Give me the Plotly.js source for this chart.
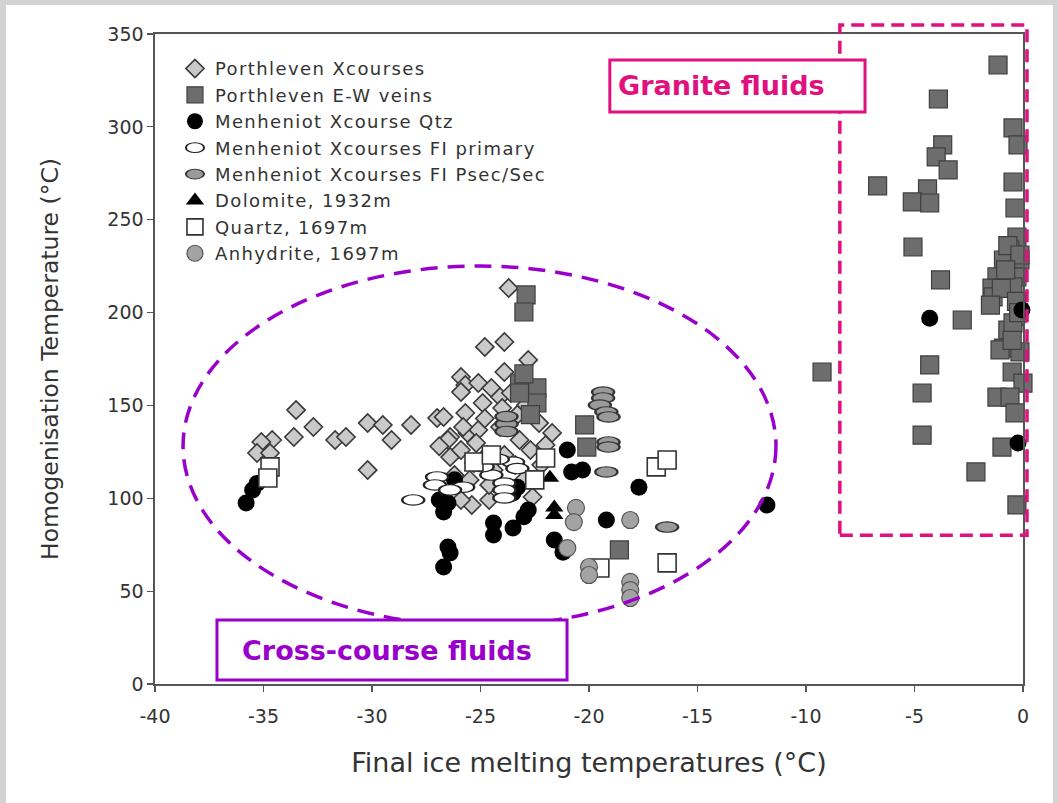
<!DOCTYPE html>
<html>
<head>
<meta charset="utf-8">
<script src="https://cdn.plot.ly/plotly-3.0.1.min.js"></script>
<style>
  html,body{margin:0;padding:0;background:#fff;}
  #wrap{position:relative;width:1058px;height:803px;}
  #plot{position:absolute;left:0;top:0;width:1058px;height:803px;}
  #frame{position:absolute;left:0;top:0;width:1058px;height:803px;box-sizing:border-box;
    border-left:6px solid #d3d3d3;border-top:5px solid #d3d3d3;border-right:5px solid #d3d3d3;pointer-events:none;}
  .legendtext{letter-spacing:1.4px;}
</style>
</head>
<body>
<div id="wrap"><div id="plot"></div><div id="frame"></div></div>
<script>
// ---- Data ----
// Porthleven Xcourses (diamonds)
const porthXcX = [-33.5,-32.7,-33.6,-34.6,-35.1,-35.3,-34.7,-31.7,-31.2,-30.2,-29.5,-28.2,-29.1,-30.2,-27.0,
  -23.7,-24.8,-23.9,-22.8,-23.9,-25.9,-25.7,-25.9,-25.1,-24.5,-24.1,-26.7,-25.7,-24.9,-24.0,-22.9,-21.7,-22.3,
  -26.4,-25.6,-23.2,-24.1,-25.1,-25.4,-24.6,-22.6,-25.9,-26.5,-26.4,-25.3,-24.4,-25.8,-25.2,-25.9,-23.6,-24.7,
  -23.9,-22.7,-22.0,-23.4,-25.5,-26.2,-24.6,-23.0,-22.2,-24.8,-23.3,-26.9,-0.3];
const porthXcY = [147.5,138.4,133,131.4,130.3,124.4,124.4,131.4,133,140.5,139.5,139.5,131.4,115.2,143.2,
  213.2,181.5,184.2,174.5,168,165.3,161,157.2,162.1,159.4,154.5,143.8,145.9,151.3,148.6,150.2,135.2,140.5,
  133,135.2,131.4,138.4,136.8,96.4,99.1,100.7,99.1,131.4,122.2,119,115.2,138.4,129.8,126,156.7,123.3,
  123.3,126,128.7,117.9,109.9,112.5,107.2,110,118,143,145,128,195];

// Porthleven E-W veins (dark squares)
const porthEWX = [-22.9,-23.0,-22.4,-22.4,-23.2,-23.2,-22.7,-23.0,-20.2,-20.1,-18.6,
  -1.15,-3.9,-0.46,-0.23,-3.7,-4.0,-3.45,-6.7,-0.46,-4.4,-5.1,-4.3,-0.37,-5.07,-0.28,-3.8,-0.6,-0.9,-0.14,
  -1.2,-0.28,-1.43,-1.38,-0.46,-2.8,-0.7,-0.46,-0.9,-0.14,-4.3,-9.26,-0.5,0,-4.65,-1.2,-0.6,-0.37,-4.65,
  -0.97,-2.17,-0.28,-0.7,-0.14,-1.0,-0.3,-1.5,-1.06,-0.5,-0.2,-0.8];
const porthEWY = [209.5,200.3,159.4,151.3,162,156.7,145,167,139.5,127.6,72.2,
  333.3,315,299.4,290.3,290.3,283.8,276.8,268.2,270.3,266.6,259.6,259,256.3,235.3,240.7,217.6,233.7,228.3,228.3,
  219.2,219.2,213.2,208.4,213.8,196,190.6,194.4,180.9,178.8,171.8,168,168,162,156.7,154.5,154.5,146,134,
  127.6,114.2,96.4,236,231,213,206,204,179.9,185,200,223];

// Menheniot Xcourse Qtz (black circles)
const menQtzX = [-35.8,-35.5,-35.3,-26.7,-26.5,-26.4,-26.7,-26.9,-26.5,-24.4,-24.4,-23.5,-23.0,-22.8,-21.6,
  -20.8,-21.0,-26.2,-23.5,-23.3,-17.7,-19.2,-20.3,-21.2,-11.8,-4.3,-0.05,-0.23];
const menQtzY = [97.5,104.5,108,63,73.8,70.5,92.6,99.1,97.5,80.2,86.7,84,90,93.7,77.5,
  114.2,126,110,102.8,106,106,88.3,115.2,71,96.4,197,201.4,129.8];

// Menheniot Xcourses FI primary (white ellipses)
const menPrimX = [-28.1,-27.0,-27.1,-25.8,-26.4,-24.5,-23.9,-23.9,-23.9,-23.5,-24.2,-23.3,-24.9];
const menPrimY = [99.1,111.5,107.2,106,104.5,112.5,108.2,104.5,100.2,119.5,121,116,117];

// Menheniot Xcourses FI Psec/Sec (grey ellipses)
const menSecX = [-19.35,-19.35,-19.5,-19.2,-19.1,-19.1,-19.1,-19.2,-16.4,-23.8,-23.8,-23.8];
const menSecY = [157.2,154,150.2,146.5,143.8,130.3,127.6,114.2,84.5,140,136,144];

// Dolomite, 1932m (black triangles)
const dolX = [-21.8,-21.6,-21.6];
const dolY = [111,95,91];

// Quartz, 1697m (white squares)
const qtzX = [-34.7,-34.8,-25.3,-24.5,-22.0,-22.5,-16.9,-16.4,-16.4,-19.5];
const qtzY = [116.9,110.9,119.5,123.3,121.7,109.9,116.9,120.6,65.2,62.5];

// Anhydrite, 1697m (grey circles)
const anhX = [-20.6,-20.7,-18.1,-21.0,-20.0,-20.0,-18.1,-18.1,-18.1];
const anhY = [94.8,87.2,88.3,73.2,63,58.7,55,50.6,46.3];

const seriesNames = ["Porthleven Xcourses","Porthleven E-W veins","Menheniot Xcourse Qtz",
  "Menheniot Xcourses FI primary","Menheniot Xcourses FI Psec/Sec","Dolomite, 1932m",
  "Quartz, 1697m","Anhydrite, 1697m"];

const xTickVals = [-40,-35,-30,-25,-20,-15,-10,-5,0];
const yTickVals = [0,50,100,150,200,250,300,350];

// ---- Styles ----
const MAGENTA = "#e0117f";
const PURPLE = "#9a00cc";
const FONT = "DejaVu Sans, Liberation Sans, Arial, sans-serif";

function tr(x, y, name, marker) {
  return {x: x, y: y, name: name, type: "scatter", mode: "markers", cliponaxis: false,
          marker: marker, hoverinfo: "x+y+name"};
}

const data = [
  tr(porthXcX, porthXcY, seriesNames[0], {symbol:"diamond", size:14, color:"#c9c9c9", line:{color:"#3a3a3a", width:1.6}}),
  tr(porthEWX, porthEWY, seriesNames[1], {symbol:"square", size:18, color:"#6d6d6d", line:{color:"#3f3f3f", width:1.2}}),
  tr(menQtzX, menQtzY, seriesNames[2], {symbol:"circle", size:17, color:"#000000", line:{color:"#000", width:0}}),
  tr(menPrimX, menPrimY, seriesNames[3], {symbol:"circle", size:13, color:"#ffffff", line:{color:"#222", width:1.4}}),
  tr(menSecX, menSecY, seriesNames[4], {symbol:"circle", size:13, color:"#9a9a9a", line:{color:"#333", width:1.4}}),
  tr(dolX, dolY, seriesNames[5], {symbol:"triangle-up", size:16, color:"#000000", line:{color:"#000", width:0}}),
  tr(qtzX, qtzY, seriesNames[6], {symbol:"square", size:18, color:"#ffffff", line:{color:"#333", width:1.6}}),
  tr(anhX, anhY, seriesNames[7], {symbol:"circle", size:17, color:"#a3a3a3", line:{color:"#555", width:1.2}})
];

const layout = {
  width: 1058, height: 803,
  margin: {l:155, r:35, t:34, b:119, pad:0},
  paper_bgcolor: "#ffffff", plot_bgcolor: "#ffffff",
  font: {family: FONT, color: "#333"},
  showlegend: true,
  legend: {x:0.023, y:0.975, xanchor:"left", yanchor:"top", bgcolor:"rgba(0,0,0,0)",
           font:{family:FONT, size:18, color:"#333"}, itemclick:false},
  xaxis: {range:[-40,0], tickvals:xTickVals, ticktext:xTickVals.map(String), showgrid:false, zeroline:false,
          showline:true, linecolor:"#555", linewidth:1.6, mirror:true,
          ticks:"outside", ticklen:6, tickcolor:"#555", tickwidth:1.2, ticklabelstandoff:9,
          tickfont:{family:FONT, size:19, color:"#333"},
          title:{text:"Final ice melting temperatures (°C)", font:{family:FONT, size:27, color:"#333"}, standoff:26}},
  yaxis: {range:[0,350], tickvals:yTickVals, showgrid:false, zeroline:false,
          showline:true, linecolor:"#555", linewidth:1.6, mirror:true,
          ticks:"outside", ticklen:6, tickcolor:"#555", tickwidth:1.2,
          tickfont:{family:FONT, size:19, color:"#333"},
          title:{text:"Homogenisation Temperature (°C)", font:{family:FONT, size:23.5, color:"#333"}, standoff:42}},
  shapes: [
    {type:"rect", xref:"paper", yref:"paper", x0:0.789, x1:1.0046, y0:0.229, y1:1.0138,
     line:{color:MAGENTA, width:3.5, dash:"13px,7px"}, fillcolor:"rgba(0,0,0,0)", layer:"above"},
    {type:"rect", xref:"paper", yref:"paper", x0:0.524, x1:0.818, y0:0.88, y1:0.96,
     line:{color:MAGENTA, width:3}, fillcolor:"#ffffff", layer:"above"},
    {type:"circle", xref:"paper", yref:"paper", x0:0.0323, x1:0.7154, y0:0.0892, y1:0.643,
     line:{color:PURPLE, width:3.5, dash:"17px,10px"}, fillcolor:"rgba(0,0,0,0)", layer:"above"},
    {type:"rect", xref:"paper", yref:"paper", x0:0.0714, x1:0.4747, y0:0.006, y1:0.0985,
     line:{color:PURPLE, width:3}, fillcolor:"#ffffff", layer:"above"}
  ],
  annotations: [
    {xref:"paper", yref:"paper", x:0.653, y:0.92, text:"<b>Granite fluids</b>", showarrow:false,
     font:{family:FONT, size:27, color:MAGENTA}, xanchor:"center", yanchor:"middle"},
    {xref:"paper", yref:"paper", x:0.2675, y:0.052, text:"<b>Cross-course fluids</b>", showarrow:false,
     font:{family:FONT, size:27, color:PURPLE}, xanchor:"center", yanchor:"middle"}
  ]
};

Plotly.newPlot("plot", data, layout, {displayModeBar:false, staticPlot:true}).then(function(gd){
  // Ellipse markers: stretch the circle markers of the two "FI" series
  const layers = gd.querySelectorAll(".scatterlayer .trace");
  [3,4].forEach(function(i){
    if (!layers[i]) return;
    layers[i].querySelectorAll("path.point").forEach(function(p){
      const t = p.getAttribute("transform") || "";
      p.setAttribute("transform", t + " scale(1.7,0.8)");
    });
  });
  const leg = gd.querySelectorAll(".legend .traces");
  [3,4].forEach(function(i){
    if (!leg[i]) return;
    leg[i].querySelectorAll("path.scatterpts").forEach(function(p){
      const t = p.getAttribute("transform") || "";
      p.setAttribute("transform", t + " scale(1.4,0.75)");
    });
  });
});
</script>
</body>
</html>
